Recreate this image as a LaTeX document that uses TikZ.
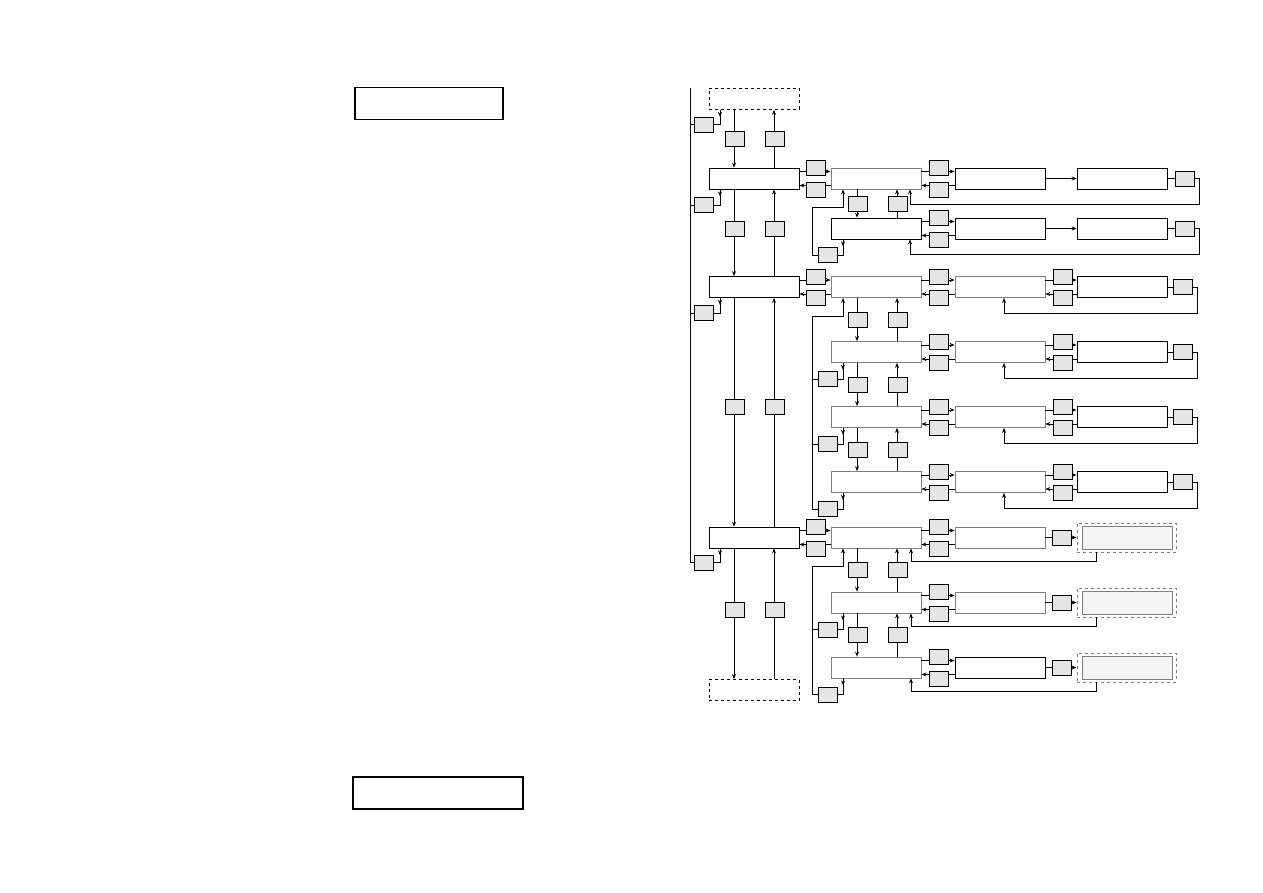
\documentclass[tikz,border=0pt]{standalone}
\usetikzlibrary{arrows.meta}
\usetikzlibrary{calc}
\begin{document}
\begin{tikzpicture}[x=1pt,y=-1pt,>={Stealth[length=5pt,width=4pt]},line width=0.8pt,
  menu/.style={draw,minimum width=90pt,minimum height=21pt,inner sep=0pt},
  submenu/.style={menu,draw=gray},
  keybox/.style={draw,fill=gray!20,minimum width=19pt,minimum height=15pt,inner sep=0pt},
  panel/.style={draw,line width=1.3pt,minimum height=32pt,inner sep=0pt}]
\useasboundingbox (0,0) rectangle (1263,893);

% left page
\node[panel,minimum width=148pt] (title) at (429,103.5) {};
\node[panel,minimum width=170pt] (footer) at (438,793) {};

% main column
\node[menu,dashed] (top) at (754,99) {};
\node[menu] (m1) at (754,178.5) {};
\node[menu] (m2) at (754,287) {};
\node[menu] (m3) at (754,537.5) {};
\node[menu,dashed] (bot) at (754,690) {};
\foreach \a/\b/\k in {top/m1/138.5, m1/m2/229, m2/m3/407, m3/bot/609.5} {
  \draw[->] ([xshift=-20pt]\a.south) -- ([xshift=-20pt]\b.north);
  \draw[->] ([xshift=20pt]\b.north) -- ([xshift=20pt]\a.south);
  \node[keybox] (dn-\a) at (734.5,\k) {};
  \node[keybox] (up-\a) at (774.5,\k) {};
}
\foreach \a/\y in {top/124.5, m1/205, m2/313, m3/562.5} {
  \node[keybox] (esc-\a) at (703.5,\y) {};
  \draw[->] ([xshift=-34pt]\a.south) -- ++(0,7);
  \draw ([xshift=-34pt]\a.south) |- (esc-\a.east);
}
\coordinate (rail) at (690,88);
\draw (rail) |- (esc-m3.west);
\foreach \a in {top,m1,m2} \draw (esc-\a.west) -- (esc-\a.west -| rail);

% sub menus
\foreach \r/\y/\bs/\cs in {1/178.5/submenu/menu, 2/228.5/menu/menu, 3/287/submenu/submenu,
    4/352/submenu/submenu, 5/417/submenu/submenu, 6/482/submenu/submenu,
    7/537.5/submenu/submenu, 8/602.5/submenu/submenu, 9/667.5/submenu/menu} {
  \node[\bs] (b\r) at (876,\y) {};
  \node[\cs] (c\r) at (1000,\y) {};
}
\foreach \r/\y in {1/178.5,2/228.5,3/287,4/352,5/417,6/482}
  \node[menu] (d\r) at (1122,\y) {};
\foreach \r/\y in {7/537.5,8/602.5,9/667.5} {
  \node[draw=gray,dashed,minimum width=99pt,minimum height=29pt,inner sep=0pt] (e\r) at (1126.5,\y) {};
  \node[draw=gray,fill=gray!8,minimum width=90pt,minimum height=23pt,inner sep=0pt] (ei\r) at (1127,\y) {};
}

% enter / back pairs
\foreach \l/\r/\x/\y in {m1/b1/816/178.5, m2/b3/816/287, m3/b7/816/537.5,
    b1/c1/938.5/178.5, b2/c2/938.5/228.5, b3/c3/938.5/287, b4/c4/938.5/352,
    b5/c5/938.5/417, b6/c6/938.5/482, b7/c7/938.5/537.5, b8/c8/938.5/602.5,
    b9/c9/938.5/667.5, c3/d3/1062.5/287, c4/d4/1062.5/352, c5/d5/1062.5/417,
    c6/d6/1062.5/482} {
  \draw[->] ([yshift=7pt]\l.east) -- ([yshift=7pt]\r.west);
  \draw[->] ([yshift=-7pt]\r.west) -- ([yshift=-7pt]\l.east);
  \node[keybox] (fw-\r) at (\x,\y-10.5) {};
  \node[keybox] (bk-\r) at (\x,\y+11) {};
}

% up / down inside a group
\foreach \u/\d in {b1/b2, b3/b4, b4/b5, b5/b6, b7/b8, b8/b9} {
  \draw[->] ([xshift=-19pt]\u.south) -- ([xshift=-19pt]\d.north);
  \draw[->] ([xshift=21pt]\d.north) -- ([xshift=21pt]\u.south);
  \node[keybox,xshift=-18.5pt] (dk-\d) at ($(\u.south)!0.5!(\d.north)$) {};
  \node[keybox,xshift=21.5pt] (uk-\d) at ($(\u.south)!0.5!(\d.north)$) {};
}

% escape inside a group
\foreach \s in {b2,b4,b5,b6,b8,b9} {
  \node[keybox] (esc-\s) at ([xshift=-48.5pt,yshift=-16pt]\s.south) {};
  \draw[->] ([xshift=-33pt]\s.south) -- ++(0,7);
  \draw ([xshift=-33pt]\s.south) |- (esc-\s.east);
}
\foreach \f/\l in {b1/b2, b3/b6, b7/b9}
  \draw[->] (esc-\l.west) -- ++(-5,0) |- ([xshift=-33pt,yshift=-18pt]\f.south) -- ([xshift=-33pt]\f.south);
\foreach \s in {b4,b5,b8} \draw (esc-\s.west) -- ++(-5,0);

% return loops
\foreach \r in {1,2} {
  \draw[->] (c\r) -- (d\r);
  \node[keybox] (rk\r) at ([xshift=17.5pt]d\r.east) {};
  \draw (d\r) -- (rk\r);
  \draw[->] (rk\r.east) -- ++(5,0) |- ([xshift=34pt,yshift=-15pt]b\r.south) -- ([xshift=34pt]b\r.south);
}
\foreach \r in {3,4,5,6} {
  \node[keybox] (rk\r) at ([xshift=15.5pt]d\r.east) {};
  \draw (d\r) -- (rk\r);
  \draw[->] (rk\r.east) -- ++(5,0) |- ([xshift=4pt,yshift=-15pt]c\r.south) -- ([xshift=4pt]c\r.south);
}
\foreach \r in {7,8,9} {
  \node[keybox] (ek\r) at ([xshift=16pt]c\r.east) {};
  \draw (c\r) -- (ek\r);
  \draw[->] (ek\r) -- (e\r);
  \draw[->] ([xshift=-30.5pt]e\r.south) |- ([xshift=35pt,yshift=-13pt]b\r.south) -- ([xshift=35pt]b\r.south);
}
\end{tikzpicture}
\end{document}
